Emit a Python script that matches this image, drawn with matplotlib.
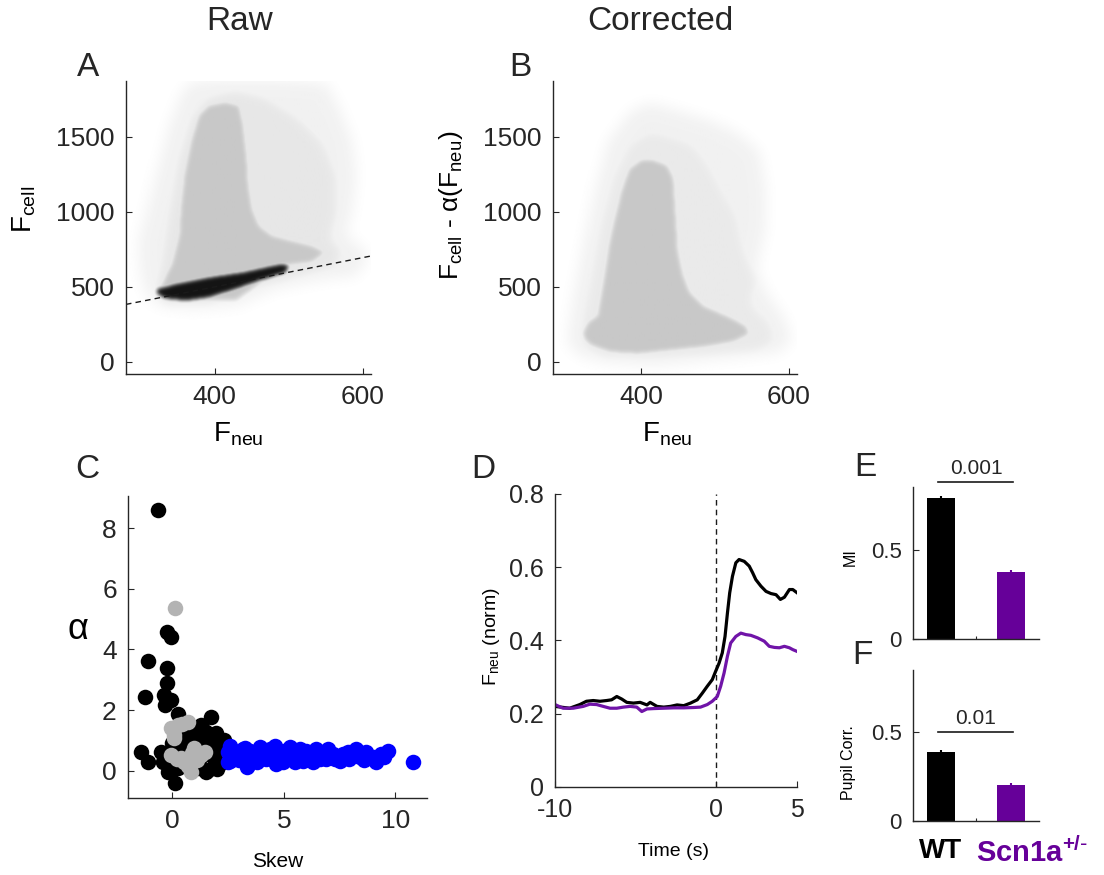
import numpy as np
import matplotlib
matplotlib.use('Agg')
import matplotlib.pyplot as plt
from matplotlib.path import Path

plt.rcParams['font.family'] = ['Liberation Sans', 'DejaVu Sans']
plt.rcParams['mathtext.default'] = 'regular'
plt.rcParams['axes.unicode_minus'] = False
plt.rcParams['text.color'] = '#262626'
plt.rcParams['axes.edgecolor'] = '#262626'
plt.rcParams['xtick.color'] = '#262626'
plt.rcParams['ytick.color'] = '#262626'

PURPLE = '#660099'

# ---- panel A: raw Fcell vs Fneu (cloud outlines)
rawHaloX = [297, 306, 320, 338, 356, 369, 414, 482, 550, 568, 586, 591, 586, 577, 595, 609, 591, 550, 482, 428, 369, 324, 306, 299]
rawHaloY = [793, 971, 1238, 1571, 1793, 1860, 1870, 1870, 1850, 1683, 1460, 1238, 1016, 838, 771, 705, 571, 549, 483, 371, 349, 371, 460, 616]
rawMidX = [324, 333, 347, 365, 387, 428, 469, 514, 550, 568, 568, 559, 577, 568, 528, 460, 392, 333, 315]
rawMidY = [660, 971, 1349, 1638, 1771, 1816, 1771, 1638, 1460, 1238, 971, 816, 749, 616, 571, 483, 371, 371, 460]
rawCoreX = [322, 329, 342, 351, 353, 358, 367, 378, 392, 414, 433, 439, 444, 446, 451, 460, 478, 505, 532, 550, 532, 496, 428, 369, 333]
rawCoreY = [460, 527, 660, 838, 1016, 1238, 1460, 1638, 1705, 1727, 1705, 1571, 1349, 1171, 1016, 905, 838, 805, 771, 727, 660, 638, 405, 405, 427]
bandX = [322, 347, 392, 437, 469, 491, 500, 496, 460, 428, 392, 360, 333, 322]
bandY = [483, 516, 560, 593, 627, 649, 638, 593, 538, 483, 427, 405, 420, 449]
fitX = [280, 611]
fitY = [383, 705]

# ---- panel B: corrected
corHaloX = [300, 309, 322, 336, 354, 385, 412, 453, 497, 533, 560, 569, 569, 556, 569, 592, 605, 587, 551, 484, 417, 349, 318, 302]
corHaloY = [173, 462, 796, 1129, 1462, 1662, 1718, 1662, 1596, 1507, 1396, 1129, 907, 618, 462, 307, 151, 62, 40, 7, -27, -4, 40, 107]
corMidX = [313, 327, 340, 358, 381, 412, 444, 471, 493, 515, 533, 542, 560, 551, 578, 587, 560, 484, 417, 349, 318]
corMidY = [173, 573, 907, 1240, 1462, 1551, 1507, 1462, 1329, 1129, 973, 751, 529, 396, 262, 129, 62, 29, 7, 18, 84]
corCoreX = [320, 327, 340, 342, 349, 356, 363, 372, 383, 399, 417, 435, 444, 446, 448, 450, 457, 466, 484, 515, 542, 547, 524, 484, 439, 394, 358, 331, 322]
corCoreY = [196, 262, 307, 373, 573, 796, 951, 1129, 1284, 1340, 1340, 1307, 1218, 1062, 907, 729, 573, 462, 373, 307, 240, 184, 129, 96, 73, 51, 62, 107, 151]

# ---- panel C: alpha vs skew
blackSkew = [-0.64, -0.22, -0.07, -1.06, -0.22, -0.22, -0.37, -0.07, -0.34, -1.21, 0.25, 1.75, -1.39, -1.09, -0.49, -0.19,
             0.13, -0.04, 0.70, 1.30, 1.75, 1.00, 1.45, 1.90, 2.04, 2.19, 1.60, 1.00, 0.25, 0.40, -0.19, 1.75, 2.34, 1.52,
             0.55, 1.20, 0.85, 1.95, 2.10, 0.50, 0.80, 1.10, 1.30, 1.60, 1.90, 2.20, 2.30, 0.90, 1.40, 0.30, 0.60,
             -0.40, -0.20, 0.00, 1.20, 2.00, 1.50]
blackAlpha = [8.59, 4.56, 4.42, 3.62, 3.40, 2.88, 2.49, 2.33, 2.16, 2.44, 1.86, 1.78, 0.63, 0.30, 0.63, 0.30,
              -0.42, -0.03, 1.40, 1.51, 1.18, 0.96, 0.74, 0.85, 0.52, 0.24, 0.02, 0.19, 0.08, 0.63, -0.03, 0.52, 0.85, 1.29,
              1.05, 0.35, 0.55, 1.25, 0.95, 0.20, 0.50, 0.80, 1.00, 0.60, 0.30, 0.60, 1.00, 1.20, 1.35, 1.00, 0.80,
              0.30, 0.60, 0.90, 0.10, 0.05, -0.05]
graySkew = [0.13, 0.25, 0.70, -0.04, 0.10, -0.04, 0.40, 0.85, 1.30, 1.00, 0.55, 1.45, 0.10, 0.45, 0.20, 0.70, 1.10, 0.90]
grayAlpha = [5.37, 1.51, 1.62, 1.40, 1.07, 0.52, 0.41, -0.03, 0.52, 0.74, 0.30, 0.63, 1.18, 1.55, 0.40, 0.15, 0.35, 0.60]
blueSkew = [2.49, 2.49, 3.24, 3.39, 3.69, 2.58, 2.58, 2.88, 3.18, 3.33, 3.63, 3.93, 4.22, 4.37, 4.82, 4.97, 5.27, 5.42,
            5.72, 5.87, 6.16, 6.46, 6.61, 6.91, 7.21, 7.66, 7.88, 8.25, 8.40, 8.70, 9.00, 9.15, 9.37, 9.67, 10.79,
            3.48, 4.67, 6.01, 5.12, 7.51, 2.70, 3.00, 3.50, 3.80, 4.10, 4.50, 4.60, 5.00, 5.50, 5.60, 6.00, 6.30,
            6.80, 7.00, 7.30, 7.90, 8.10, 8.60, 9.50]
blueAlpha = [0.63, 0.30, 0.74, 0.19, 0.52, 0.83, 0.33, 0.55, 0.72, 0.11, 0.44, 0.77, 0.39, 0.72, 0.55, 0.28, 0.77, 0.44,
             0.72, 0.33, 0.55, 0.72, 0.39, 0.39, 0.55, 0.55, 0.61, 0.72, 0.44, 0.61, 0.44, 0.28, 0.55, 0.66, 0.28,
             0.66, 0.22, 0.66, 0.61, 0.33, 0.50, 0.35, 0.55, 0.30, 0.60, 0.40, 0.80, 0.65, 0.30, 0.60, 0.45, 0.30,
             0.55, 0.70, 0.40, 0.40, 0.55, 0.35, 0.45]

# ---- panel D: normalised neuropil traces
wtT = [-10, -9.09, -8.46, -8.05, -7.63, -7.21, -6.80, -6.49, -6.17, -5.86, -5.55, -5.14, -4.72, -4.30, -4.10, -3.68, -3.26,
       -2.85, -2.43, -2.02, -1.60, -1.18, -0.87, -0.56, -0.25, -0.04, 0.17, 0.37, 0.54, 0.69, 0.83, 1.00, 1.21, 1.41,
       1.73, 2.04, 2.25, 2.45, 2.77, 3.08, 3.39, 3.70, 3.97, 4.22, 4.53, 4.74, 5.01]
wtF = [0.220, 0.215, 0.225, 0.234, 0.236, 0.234, 0.236, 0.238, 0.247, 0.240, 0.231, 0.229, 0.231, 0.224, 0.231, 0.220, 0.218,
       0.220, 0.224, 0.222, 0.229, 0.238, 0.256, 0.275, 0.293, 0.316, 0.338, 0.366, 0.411, 0.475, 0.530, 0.575, 0.612, 0.621,
       0.616, 0.603, 0.585, 0.566, 0.548, 0.534, 0.528, 0.525, 0.512, 0.518, 0.539, 0.539, 0.530]
mutT = [-10, -9.50, -8.88, -8.25, -7.84, -7.42, -7.01, -6.59, -6.17, -5.76, -5.34, -4.93, -4.62, -4.30, -3.89, -3.26, -2.64,
        -2.02, -1.39, -0.98, -0.56, -0.25, 0.06, 0.27, 0.48, 0.69, 0.89, 1.21, 1.52, 1.83, 2.14, 2.56, 2.97, 3.28, 3.60,
        3.91, 4.22, 4.53, 4.74, 5.01]
mutF = [0.225, 0.215, 0.215, 0.220, 0.226, 0.225, 0.220, 0.215, 0.215, 0.218, 0.220, 0.218, 0.206, 0.213, 0.214, 0.215, 0.216,
        0.216, 0.217, 0.218, 0.225, 0.234, 0.247, 0.275, 0.311, 0.357, 0.393, 0.411, 0.420, 0.416, 0.414, 0.407, 0.398, 0.384,
        0.381, 0.380, 0.384, 0.380, 0.375, 0.370]

# ---- panels E, F: bar summaries
groups = ['WT', r'Scn1a$^{+/\text{-}}$']
barPos = [1, 3]
miVals = [0.787, 0.376]
miErr = [0.012, 0.012]
pupilVals = [0.39, 0.20]
pupilErr = [0.012, 0.012]
pMI = '0.001'
pPupil = '0.01'

XLIM_F = (280, 611)
YLIM_F = (-80, 1870)
GRID_X = (240, 650)
GRID_Y = (-200, 2050)


def blur(a, sigma):
    r = int(3 * sigma)
    k = np.exp(-0.5 * (np.arange(-r, r + 1) / sigma) ** 2)
    k /= k.sum()
    a = np.apply_along_axis(lambda v: np.convolve(v, k, mode='same'), 0, a)
    a = np.apply_along_axis(lambda v: np.convolve(v, k, mode='same'), 1, a)
    return a


def cloudImage(layers, nx=300, ny=340):
    # layers: (xs, ys, ink, sigma); polygons are rasterised and softened
    gx = np.linspace(GRID_X[0], GRID_X[1], nx)
    gy = np.linspace(GRID_Y[0], GRID_Y[1], ny)
    xx, yy = np.meshgrid(gx, gy)
    pts = np.column_stack([xx.ravel(), yy.ravel()])
    ink = np.zeros(xx.shape)
    for xs, ys, level, sigma in layers:
        mask = Path(np.column_stack([xs, ys])).contains_points(pts).reshape(xx.shape).astype(float)
        ink = np.maximum(ink, blur(mask, sigma) * level)
    return 1 - ink


def style(ax, size):
    for s in ['top', 'right']:
        ax.spines[s].set_visible(False)
    for s in ['left', 'bottom']:
        ax.spines[s].set_linewidth(1.0)
    ax.tick_params(direction='in', length=4, width=0.8, labelsize=size, pad=8)


fig = plt.figure(figsize=(11.04, 8.75), dpi=100)

axA = fig.add_axes([0.1141, 0.5726, 0.2219, 0.3349])
axB = fig.add_axes([0.5009, 0.5726, 0.2210, 0.3349])
axC = fig.add_axes([0.1159, 0.0880, 0.2708, 0.3451])
axD = fig.add_axes([0.5027, 0.1006, 0.2192, 0.3349])
axE = fig.add_axes([0.8270, 0.2697, 0.1141, 0.1737])
axF = fig.add_axes([0.8270, 0.0617, 0.1141, 0.1726])

# A
imgA = cloudImage([(rawHaloX, rawHaloY, 0.055, 7), (rawMidX, rawMidY, 0.095, 6),
                   (rawCoreX, rawCoreY, 0.216, 2.5), (bandX, bandY, 0.92, 2.0)])
axA.imshow(imgA, extent=[*GRID_X, *GRID_Y], origin='lower', cmap='gray', vmin=0, vmax=1,
           aspect='auto', interpolation='bilinear')
axA.plot(fitX, fitY, '--', color='#1a1a1a', lw=1.0, dashes=(4, 3))
axA.set_xlim(*XLIM_F)
axA.set_ylim(*YLIM_F)
axA.set_xticks([400, 600])
axA.set_yticks([0, 500, 1000, 1500])
style(axA, 19)
axA.set_ylabel('$F_{cell}$', fontsize=20)
axA.set_xlabel('$F_{neu}$', fontsize=20)
axA.yaxis.set_label_coords(-0.36, 0.56)
axA.xaxis.set_label_coords(0.457, -0.16)

# B
imgB = cloudImage([(corHaloX, corHaloY, 0.055, 7), (corMidX, corMidY, 0.085, 6),
                   (corCoreX, corCoreY, 0.216, 2.5)])
axB.imshow(imgB, extent=[*GRID_X, *GRID_Y], origin='lower', cmap='gray', vmin=0, vmax=1,
           aspect='auto', interpolation='bilinear')
axB.set_xlim(*XLIM_F)
axB.set_ylim(*YLIM_F)
axB.set_xticks([400, 600])
axB.set_yticks([0, 500, 1000, 1500])
style(axB, 19)
axB.set_ylabel('$F_{cell}$ - α($F_{neu}$)', fontsize=19)
axB.set_xlabel('$F_{neu}$', fontsize=20)
axB.yaxis.set_label_coords(-0.36, 0.577)
axB.xaxis.set_label_coords(0.47, -0.16)

# C
axC.scatter(blackSkew, blackAlpha, s=125, color='black', lw=0)
axC.scatter(graySkew, grayAlpha, s=125, color='#b3b3b3', lw=0)
axC.scatter(blueSkew, blueAlpha, s=125, color='#0000ff', lw=0)
axC.set_xlim(-1.98, 11.41)
axC.set_ylim(-0.9, 9.06)
axC.set_xticks([0, 5, 10])
axC.set_yticks([0, 2, 4, 6, 8])
style(axC, 19)
axC.set_ylabel('α', fontsize=26, rotation=0)
axC.yaxis.set_label_coords(-0.167, 0.5)
axC.set_xlabel('Skew', fontsize=15)
axC.xaxis.set_label_coords(0.50, -0.18)

# D
axD.axvline(0, color='#1a1a1a', ls='--', lw=1.0, dashes=(4, 3))
axD.plot(wtT, wtF, color='black', lw=2.3)
axD.plot(mutT, mutF, color='#7014a8', lw=2.3)
axD.set_xlim(-10, 5)
axD.set_ylim(0, 0.8)
axD.set_xticks([-10, 0, 5])
axD.set_yticks([0, 0.2, 0.4, 0.6, 0.8])
axD.set_yticklabels(['0', '0.2', '0.4', '0.6', '0.8'])
style(axD, 18)
axD.set_ylabel('$F_{neu}$ (norm)', fontsize=14)
axD.yaxis.set_label_coords(-0.22, 0.515)
axD.set_xlabel('Time (s)', fontsize=14)
axD.xaxis.set_label_coords(0.49, -0.19)

# E, F
barColors = ['black', PURPLE]
for ax, vals, err, p, lab, lx, ly, lineY, txtY in [
        (axE, miVals, miErr, pMI, 'MI', -0.44, 0.54, 0.876, 0.90),
        (axF, pupilVals, pupilErr, pPupil, 'Pupil Corr.', -0.45, 0.39, 0.50, 0.525)]:
    for i in range(2):
        ax.bar(barPos[i], vals[i], width=0.8, color=barColors[i])
        ax.errorbar(barPos[i], vals[i], yerr=[[0], [err[i]]], color=barColors[i], lw=1.5, capsize=0)
    ax.plot([0.9, 3.05], [lineY, lineY], color='#1a1a1a', lw=1.2, clip_on=False)
    ax.text(2, txtY, p, ha='center', va='bottom', fontsize=15)
    ax.set_xlim(0.2, 3.8)
    ax.set_ylim(0, 0.85)
    ax.set_xticks([2])
    ax.set_xticklabels([''])
    ax.set_yticks([0, 0.5])
    ax.set_yticklabels(['0', '0.5'])
    style(ax, 16)
    ax.tick_params(axis='x', length=2)
    ax.set_ylabel(lab, fontsize=11.5)
    ax.yaxis.set_label_coords(lx, ly)

axF.annotate(groups[0], xy=(barPos[0], 0), xycoords=('data', 'axes fraction'), xytext=(0, -12),
             textcoords='offset points', ha='center', va='top', fontsize=20, fontweight='bold', color='black')
axF.annotate(groups[1], xy=(3.6, 0), xycoords=('data', 'axes fraction'), xytext=(0, -12),
             textcoords='offset points', ha='center', va='top', fontsize=21, fontweight='bold', color=PURPLE)

# titles and panel letters
fig.text(240 / 1104, 1 - 22 / 875, 'Raw', ha='center', va='center', fontsize=24)
fig.text(660 / 1104, 1 - 22 / 875, 'Corrected', ha='center', va='center', fontsize=24)
for lt, px, py in [('A', 88, 68), ('B', 520, 68), ('C', 87, 470), ('D', 483, 470), ('E', 865, 468), ('F', 862, 655)]:
    fig.text(px / 1104, 1 - py / 875, lt, ha='center', va='center', fontsize=24)

fig.savefig('out.png', dpi=100)
